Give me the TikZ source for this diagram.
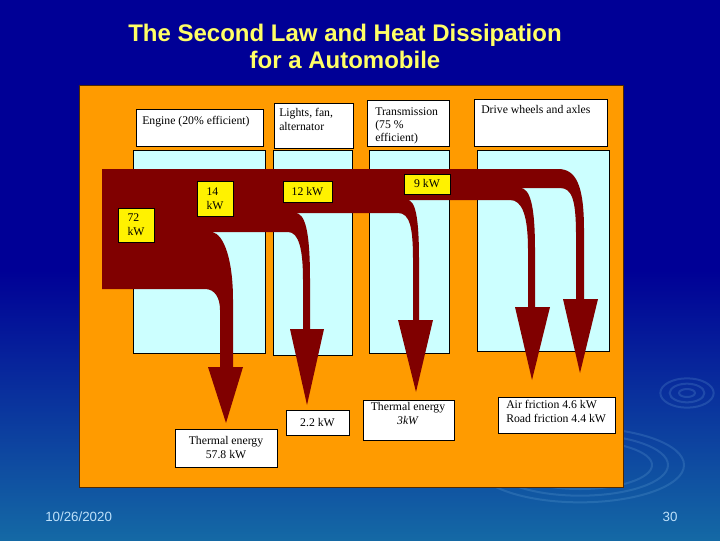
\documentclass[tikz,border=0pt]{standalone}
\usepackage{fontspec}
\setmainfont{Liberation Serif}
\newfontfamily\arialfont{Liberation Sans}
\definecolor{panelorange}{RGB}{255,155,0}
\definecolor{panelrim}{RGB}{80,40,0}
\definecolor{flowred}{RGB}{128,0,0}
\definecolor{paleblue}{RGB}{204,255,255}
\definecolor{slidenavy}{RGB}{0,0,150}
\definecolor{slideteal}{RGB}{20,105,165}
\definecolor{titleyellow}{RGB}{255,255,102}
\definecolor{footblue}{RGB}{190,225,250}
\definecolor{ripple}{RGB}{120,180,225}
\begin{document}
\begin{tikzpicture}[x=0.75pt,y=-0.75pt,
  sz/.style 2 args={minimum width=#1*0.75pt,minimum height=#2*0.75pt},
  pane/.style={draw=black,line width=0.5pt,inner sep=0pt,outer sep=0pt,anchor=north west},
  whitebox/.style={pane,fill=white,font=\fontsize{8.8}{10.5}\selectfont,align=center},
  cyanbox/.style={pane,fill=paleblue},
  kwbox/.style={pane,fill=yellow,font=\fontsize{8.8}{10.5}\selectfont,align=left},
  txt/.style={inner sep=0pt,font=\fontsize{8.8}{10.5}\selectfont,align=left,anchor=north west},
  ring/.style={draw=ripple,opacity=0.2,line width=1.5pt}]
\useasboundingbox (0,0) rectangle (720,540);
\fill[slidenavy] (0,0) rectangle (720,540);
\fill[top color=slidenavy,bottom color=slideteal] (0,270) rectangle (720,540);
\draw[ring] (687,393) ellipse (20pt and 11pt);
\draw[ring] (687,393) ellipse (13pt and 7pt);
\draw[ring] (687,393) ellipse (6pt and 3pt);
\draw[ring] (580,465) ellipse (78pt and 28pt);
\draw[ring] (580,465) ellipse (66pt and 23pt);
\draw[ring] (580,465) ellipse (54pt and 18pt);

\node[font=\arialfont\bfseries\fontsize{18}{20.6}\selectfont,text=titleyellow,align=center,anchor=north,inner sep=0pt] (title) at (345,23.5) {The Second Law and Heat Dissipation\\for a Automobile};

\node[pane,fill=panelorange,draw=panelrim,sz={544}{402}] (panel) at (79,85) {};
\node[cyanbox,sz={132}{203}] (engcol) at (133,150) {};
\node[cyanbox,sz={79}{205}] (lightcol) at (273,150) {};
\node[cyanbox,sz={80}{203}] (transcol) at (369,150) {};
\node[cyanbox,sz={132}{201}] (drivecol) at (477,150) {};
\node[whitebox,sz={127}{37}] (engine) at (136,109) {};
\node[whitebox,sz={79}{45}] (lights) at (274,103) {};
\node[whitebox,sz={82}{46}] (trans) at (367,100) {};
\node[whitebox,sz={133}{47}] (drive) at (474,99) {};
\node[txt] (enginetxt) at (142,116) {Engine (20\% efficient)};
\node[txt] (lightstxt) at (279,108) {Lights, fan,\\alternator};
\node[txt,font=\fontsize{8.8}{9.75}\selectfont] (transtxt) at (375,107) {Transmission\\(75 \%\\efficient)};
\node[txt] (drivetxt) at (481,105) {Drive wheels and axles};

\fill[flowred] (102,169) -- (558,169) .. controls (576,169) and (584,185) .. (584,230) -- (584,299)
  -- (598,299) -- (580,373) -- (563,299) -- (576,299) -- (576,235) .. controls (576,200) and (572,188) .. (560,188)
  -- (520,188) .. controls (530,188) and (535,205) .. (535,250) -- (535,307)
  -- (550,307) -- (532,380) -- (515,307) -- (528,307) -- (528,250) .. controls (528,215) and (522,200) .. (510,200)
  -- (407,200) .. controls (415,200) and (419,215) .. (419,260) -- (419,320)
  -- (433,320) -- (416,392) -- (398,320) -- (413,320) -- (413,260) .. controls (413,228) and (410,213) .. (398,213)
  -- (295,213) .. controls (305,213) and (310,230) .. (310,280) -- (310,329)
  -- (324,329) -- (307,405) -- (290,329) -- (303,329) -- (303,280) .. controls (303,250) and (299,232) .. (288,232)
  -- (212,232) .. controls (224,234) and (233,260) .. (233,300) -- (233,367)
  -- (243,367) -- (226,423) -- (208,367) -- (220,367) -- (220,310) .. controls (220,298) and (215,289) .. (205,289)
  -- (102,289) -- cycle;

\node[kwbox,sz={36}{34}] (in72) at (118,208) {72\\kW};
\node[kwbox,sz={36}{35}] (out14) at (197,181) {14\\kW};
\node[kwbox,sz={49}{21}] (out12) at (283,181) {12 kW};
\node[kwbox,sz={46}{20}] (out9) at (404,174) {9 kW};

\node[whitebox,sz={102}{38}] (heat57) at (175,429) {Thermal energy\\57.8 kW};
\node[whitebox,sz={63}{25}] (loss22) at (286,410) {2.2 kW};
\node[whitebox,sz={91}{40}] (heat3) at (363,400) {};
\node[txt,align=center,anchor=north] (heat3txt) at (408,402) {Thermal energy\\\textit{3kW}};
\node[whitebox,sz={117}{36}] (friction) at (498,397) {};
\node[txt] (frictiontxt) at (506,400) {Air friction 4.6 kW\\Road friction 4.4 kW};

\node[font=\arialfont\fontsize{10}{12}\selectfont,text=footblue,anchor=base west,inner sep=0pt] (date) at (45,521) {10/26/2020};
\node[font=\arialfont\fontsize{10}{12}\selectfont,text=footblue,anchor=base,inner sep=0pt] (pagenum) at (670,521) {30};
\end{tikzpicture}
\end{document}
